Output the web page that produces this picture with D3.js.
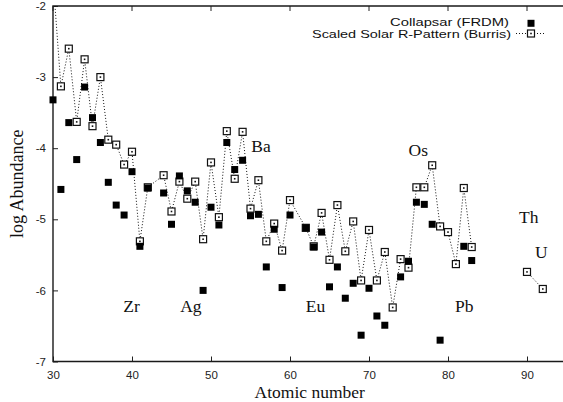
<!DOCTYPE html>
<html>
<head>
<meta charset="utf-8">
<script src="https://cdn.jsdelivr.net/npm/d3@7"></script>
<style>
	body { margin: 0; background: #fff; }
	svg { display: block; overflow: hidden; }
	.tick text { font-family: "Liberation Sans", Arial, sans-serif; font-size: 11.5px; fill: #222; }
</style>
</head>
<body>
<div id="chart"></div>
<script>

// collapsar model (filled squares)
var collapsarZ = [30, 31, 32, 33, 34, 35, 36, 37, 38, 39, 40, 41, 42,
	44, 45, 46, 47, 48, 49, 50, 51, 52, 53, 54, 55, 56, 57, 58, 59, 60,
	62, 63, 64, 65, 66, 67, 68, 69, 70, 71, 72, 74, 75, 76, 77, 78, 79, 82, 83];
var collapsarLog = [-3.32, -4.58, -3.64, -4.16, -3.14, -3.57, -3.92, -4.48, -4.80, -4.94, -4.33, -5.38, -4.56,
	-4.63, -5.07, -4.39, -4.60, -4.76, -6.00, -4.83, -5.08, -3.92, -4.30, -4.17, -4.95, -4.93, -5.67, -5.14, -5.96, -4.94,
	-5.12, -5.39, -5.18, -5.95, -5.67, -6.11, -5.90, -6.63, -5.97, -6.36, -6.49, -5.81, -5.59, -4.76, -4.79, -5.07, -6.70, -5.38, -5.58];

// scaled solar r-pattern (open squares, dotted line)
var solarZ = [30, 31, 32, 33, 34, 35, 36, 37, 38, 39, 40, 41, 42,
	44, 45, 46, 47, 48, 49, 50, 51, 52, 53, 54, 55, 56, 57, 58, 59, 60,
	62, 63, 64, 65, 66, 67, 68, 69, 70, 71, 72, 73, 74, 75, 76, 77, 78, 79, 80, 81, 82, 83,
	90, 92];
var solarLog = [-1.62, -3.13, -2.60, -3.63, -2.75, -3.69, -3.00, -3.88, -3.95, -4.23, -4.05, -5.31, -4.55,
	-4.38, -4.89, -4.47, -4.71, -4.47, -5.28, -4.20, -4.97, -3.76, -4.43, -3.77, -4.85, -4.45, -5.31, -5.06, -5.44, -4.73,
	-5.12, -5.38, -4.91, -5.57, -4.80, -5.45, -5.03, -5.86, -5.15, -5.86, -5.46, -6.24, -5.56, -5.68, -4.55, -4.55, -4.24, -5.10, -5.18, -5.63, -4.56, -5.39,
	-5.74, -5.98];

var elemNames = ['Zr', 'Ag', 'Ba', 'Eu', 'Os', 'Pb', 'Th', 'U'];
var elemZ = [38.9, 46.1, 55.1, 62.0, 75.0, 80.9, 89.0, 91.0];
var elemLog = [-6.31, -6.31, -4.06, -6.31, -4.11, -6.31, -5.05, -5.55];

var xTicks = [30, 40, 50, 60, 70, 80, 90];
var yTicks = [-7, -6, -5, -4, -3, -2];

var seriesNames = ['Collapsar (FRDM)', 'Scaled Solar R-Pattern (Burris)'];

var w = 563;
var h = 402;
var margin = {left: 53, right: -3.5, top: 6, bottom: 40.5}

var svg = d3.select('#chart')
	.append('svg')
	.attr('width', w)
	.attr('height', h)

var xscale = d3.scaleLinear()
	.domain([30, 95])
	.range([margin.left, w - margin.right])

var yscale = d3.scaleLinear()
	.domain([-7, -2])
	.range([h - margin.bottom, margin.top])

svg.append('defs')
	.append('clipPath')
	.attr('id', 'plotclip')
	.append('rect')
	.attr('x', margin.left)
	.attr('y', margin.top)
	.attr('width', w - margin.right - margin.left)
	.attr('height', h - margin.bottom - margin.top)

var collapsar = collapsarZ.map(function(z, i) { return {z: z, v: collapsarLog[i]}; })
var solar = solarZ.map(function(z, i) { return {z: z, v: solarLog[i]}; })

// split the solar pattern where there is a big gap in Z (83 -> 90)
var segments = [];
solar.forEach(function(d, i) {
	if (i == 0 || d.z - solar[i - 1].z > 2) segments.push([]);
	segments[segments.length - 1].push(d);
})

var inRange = function(d) { return d.v >= -7 && d.v <= -2; }

// axes, ticks point inward like gnuplot
var xaxis = d3.axisBottom(xscale)
	.tickValues(xTicks)
	.tickSize(-5)
	.tickPadding(9)

var yaxis = d3.axisLeft(yscale)
	.tickValues(yTicks)
	.tickFormat(d3.format('d'))
	.tickSize(-5)
	.tickPadding(7)

var gx = svg.append('g')
	.attr('transform', 'translate(0,' + (h - margin.bottom) + ')')
	.call(xaxis)
gx.select('.domain').remove()
gx.selectAll('.tick line').attr('stroke', '#222')

var gy = svg.append('g')
	.attr('transform', 'translate(' + margin.left + ',0)')
	.call(yaxis)
gy.select('.domain').remove()
gy.selectAll('.tick line').attr('stroke', '#222')
gy.selectAll('.tick text').text(function(d) { return d3.format('d')(d).replace('−', '-'); })

// mirrored ticks on top border
svg.append('g')
	.selectAll('line')
	.data(xTicks)
	.enter()
	.append('line')
	.attr('x1', function(d) { return xscale(d); })
	.attr('x2', function(d) { return xscale(d); })
	.attr('y1', margin.top)
	.attr('y2', margin.top + 5)
	.attr('stroke', '#222')

// border
svg.append('path')
	.attr('d', 'M' + (w + 5) + ',' + margin.top + 'H' + margin.left + 'V' + (h - margin.bottom) + 'H' + (w + 5))
	.attr('fill', 'none')
	.attr('stroke', '#1a1a1a')
	.attr('stroke-width', 1.4)

var line = d3.line()
	.x(function(d) { return xscale(d.z); })
	.y(function(d) { return yscale(d.v); })

svg.append('g')
	.attr('clip-path', 'url(#plotclip)')
	.selectAll('path')
	.data(segments)
	.enter()
	.append('path')
	.attr('d', line)
	.attr('fill', 'none')
	.attr('stroke', '#111')
	.attr('stroke-width', 1)
	.attr('stroke-dasharray', '1,2')

var openBox = function(sel) {
	sel.append('rect')
		.attr('x', -3.5)
		.attr('y', -3.5)
		.attr('width', 7)
		.attr('height', 7)
		.attr('fill', '#fff')
		.attr('stroke', '#111')
		.attr('stroke-width', 1.2)
	sel.append('rect')
		.attr('x', -0.8)
		.attr('y', -0.8)
		.attr('width', 1.6)
		.attr('height', 1.6)
		.attr('fill', '#111')
}

svg.append('g')
	.selectAll('g')
	.data(solar.filter(inRange))
	.enter()
	.append('g')
	.attr('transform', function(d) { return 'translate(' + xscale(d.z) + ',' + yscale(d.v) + ')'; })
	.call(openBox)

svg.append('g')
	.selectAll('rect')
	.data(collapsar.filter(inRange))
	.enter()
	.append('rect')
	.attr('x', function(d) { return xscale(d.z) - 3.5; })
	.attr('y', function(d) { return yscale(d.v) - 3.5; })
	.attr('width', 7)
	.attr('height', 7)
	.attr('fill', '#000')

// element labels
svg.append('g')
	.selectAll('text')
	.data(elemNames)
	.enter()
	.append('text')
	.attr('x', function(d, i) { return xscale(elemZ[i]); })
	.attr('y', function(d, i) { return yscale(elemLog[i]); })
	.attr('font-family', '"Liberation Serif", "Times New Roman", serif')
	.attr('font-size', 17.5)
	.attr('fill', '#111')
	.text(function(d) { return d; })

// axis titles
svg.append('text')
	.attr('x', (margin.left + w - margin.right) / 2)
	.attr('y', 397.5)
	.attr('text-anchor', 'middle')
	.attr('font-family', '"Liberation Serif", "Times New Roman", serif')
	.attr('font-size', 17.5)
	.attr('fill', '#111')
	.text('Atomic number')

svg.append('text')
	.attr('transform', 'translate(22.5,' + ((margin.top + h - margin.bottom) / 2) + ') rotate(-90)')
	.attr('text-anchor', 'middle')
	.attr('font-family', '"Liberation Serif", "Times New Roman", serif')
	.attr('font-size', 18)
	.attr('fill', '#111')
	.text('log Abundance')

// key, text stretched a bit to the width of the original lettering
var key = svg.append('g')
	.attr('font-family', '"Liberation Sans", Arial, sans-serif')
	.attr('font-size', 11.5)
	.attr('fill', '#111')

key.append('text')
	.attr('x', 509)
	.attr('y', 26)
	.attr('text-anchor', 'end')
	.attr('textLength', 119)
	.attr('lengthAdjust', 'spacingAndGlyphs')
	.text(seriesNames[0])

key.append('rect')
	.attr('x', 527.5)
	.attr('y', 19.8)
	.attr('width', 7)
	.attr('height', 7)
	.attr('fill', '#000')

key.append('text')
	.attr('x', 511)
	.attr('y', 37.5)
	.attr('text-anchor', 'end')
	.attr('textLength', 199)
	.attr('lengthAdjust', 'spacingAndGlyphs')
	.text(seriesNames[1])

key.append('line')
	.attr('x1', 516)
	.attr('x2', 546)
	.attr('y1', 33.5)
	.attr('y2', 33.5)
	.attr('stroke', '#111')
	.attr('stroke-dasharray', '1,2')

key.append('g')
	.attr('transform', 'translate(531,33.5)')
	.call(openBox)

</script>
</body>
</html>
